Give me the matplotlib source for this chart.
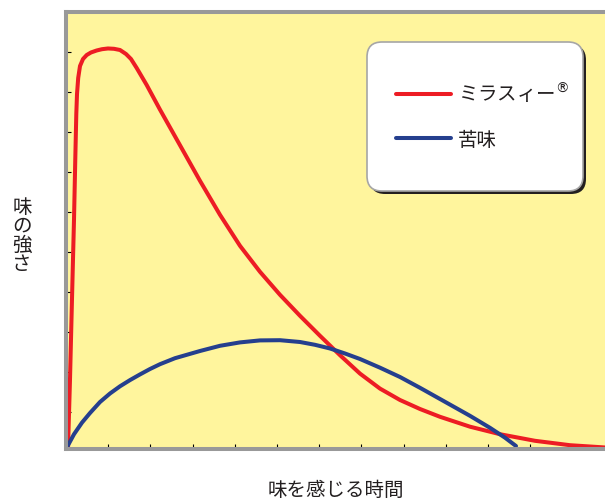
import matplotlib
matplotlib.use("Agg")
import matplotlib.pyplot as plt
from matplotlib.patches import FancyBboxPatch

plt.rcParams['font.family'] = ['Noto Sans CJK JP', 'DejaVu Sans']

# time axis (tick spacing = 1), intensity axis (tick spacing = 1)
mirasee_t = [0.047, 0.095, 0.142, 0.190, 0.220, 0.244, 0.261, 0.289, 0.332, 0.403,
             0.491, 0.592, 0.727, 0.853, 0.995, 1.137, 1.280, 1.422, 1.540, 1.675,
             1.912, 2.227, 2.701, 3.175, 3.649, 4.123, 4.597, 5.071, 5.545, 6.019,
             6.493, 6.967, 7.441, 7.915, 8.389, 8.863, 9.573, 10.284, 11.114, 11.943,
             12.773]
mirasee_v = [0.0, 1.75, 3.75, 5.75, 7.25, 8.375, 8.875, 9.275, 9.575, 9.75,
             9.85, 9.913, 9.963, 9.995, 10.013, 10.005, 9.975, 9.875, 9.75, 9.525,
             9.1, 8.485, 7.595, 6.705, 5.855, 5.08, 4.43, 3.855, 3.33, 2.83,
             2.345, 1.885, 1.51, 1.225, 1.0, 0.805, 0.558, 0.37, 0.205, 0.095,
             0.038]

bitter_t = [0.0, 0.190, 0.379, 0.569, 0.806, 1.043, 1.280, 1.517, 1.754, 1.991,
            2.227, 2.583, 3.175, 3.649, 4.123, 4.597, 5.071, 5.545, 5.900, 6.256,
            6.611, 6.967, 7.441, 7.915, 8.389, 8.863, 9.573, 10.047, 10.403, 10.664]
bitter_v = [0.0, 0.370, 0.660, 0.900, 1.175, 1.388, 1.568, 1.723, 1.865, 2.000,
            2.120, 2.270, 2.450, 2.580, 2.665, 2.715, 2.720, 2.675, 2.605, 2.513,
            2.388, 2.250, 2.033, 1.800, 1.530, 1.250, 0.830, 0.530, 0.283, 0.075]

x_ticks = [1, 2, 3, 4, 5, 6, 7, 8, 9, 10, 11]
y_ticks = [0.925, 1.925, 2.925, 3.925, 4.925, 5.925, 6.925, 7.925, 8.925, 9.925]

labels = ["ミラスィー$^{\\circledR}$", "苦味"]
red = "#ed1c24"
blue = "#253f8e"
text_col = "#231f20"

fig = plt.figure(figsize=(6.05, 5.02), dpi=100)
ax = fig.add_axes([66 / 605, 52 / 502, 539 / 605, 437 / 502])
ax.set_facecolor("#fff59d")

ax.plot(mirasee_t, mirasee_v, color=red, lw=2.9, label=labels[0],
        solid_joinstyle="round", solid_capstyle="round")
ax.plot(bitter_t, bitter_v, color=blue, lw=2.9, label=labels[1],
        solid_joinstyle="round", solid_capstyle="round")

ax.set_xlim(0, 12.773)
ax.set_ylim(0, 10.925)
ax.set_xticks(x_ticks)
ax.set_yticks(y_ticks)
ax.set_xticklabels([])
ax.set_yticklabels([])
ax.tick_params(direction="in", length=3.8, width=0.8, color="black")

for s in ["left", "top", "bottom"]:
    ax.spines[s].set_color("#999999")
    ax.spines[s].set_linewidth(2.9)
ax.spines["right"].set_visible(False)

# legend box with shadow (inches on the figure)
shadow = FancyBboxPatch((3.70, 3.07), 2.16, 1.49, boxstyle="round,pad=0,rounding_size=0.15",
                        transform=fig.dpi_scale_trans, facecolor=text_col,
                        edgecolor="none", zorder=3, clip_on=False)
box = FancyBboxPatch((3.67, 3.10), 2.16, 1.49, boxstyle="round,pad=0,rounding_size=0.15",
                     transform=fig.dpi_scale_trans, facecolor="white",
                     edgecolor="#a6a6a6", linewidth=1.2, zorder=3.1, clip_on=False)
ax.add_patch(shadow)
ax.add_patch(box)

leg = ax.legend(loc="center left", bbox_to_anchor=(0.6122, 0.7632), borderaxespad=0,
                borderpad=0, fontsize=14, handlelength=2.84, handletextpad=0.36,
                labelspacing=1.2, frameon=False)
for t in leg.get_texts():
    t.set_color(text_col)

ax.set_xlabel("味を感じる時間", fontsize=14, color=text_col, labelpad=18)
fig.text(22 / 605, 1 - 236 / 502, "味\nの\n強\nさ", fontsize=14, color=text_col,
         ha="center", va="center", linespacing=0.88)

fig.savefig("out.png", dpi=100)
